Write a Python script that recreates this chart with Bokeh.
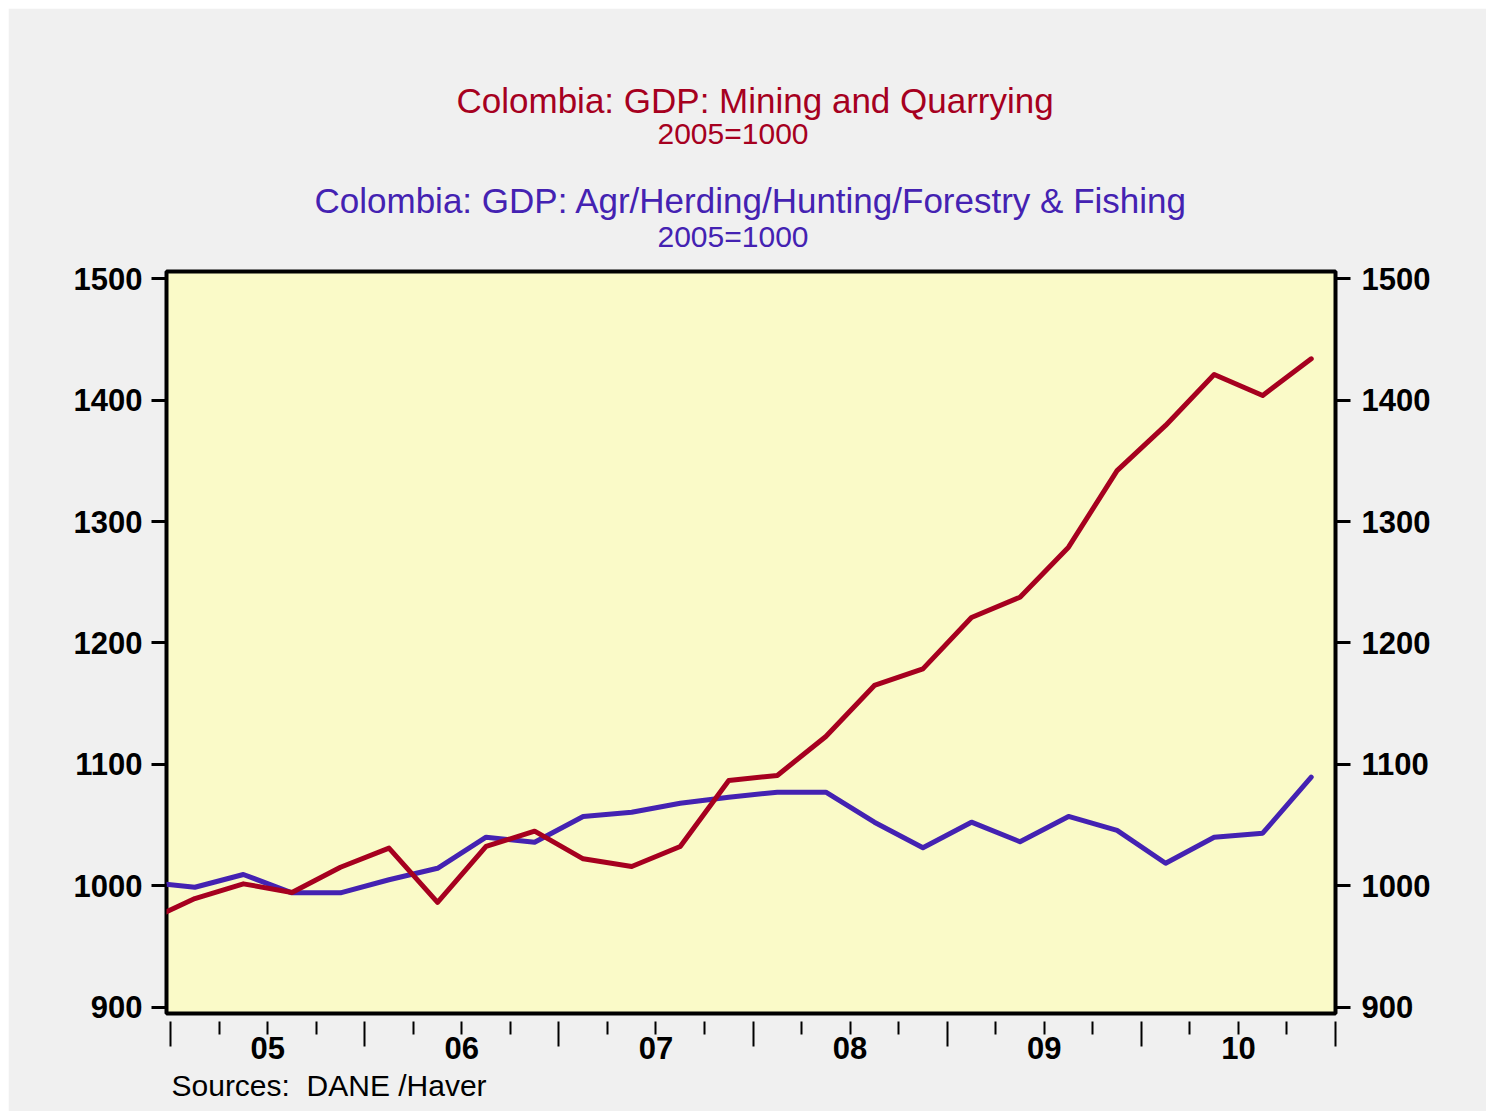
from bokeh.plotting import figure
from bokeh.models import FixedTicker, LinearAxis, Title, Range1d
from bokeh.embed import file_html
from bokeh.resources import INLINE

# ---- data ----
quarters = ["2004Q4",
            "2005Q1", "2005Q2", "2005Q3", "2005Q4",
            "2006Q1", "2006Q2", "2006Q3", "2006Q4",
            "2007Q1", "2007Q2", "2007Q3", "2007Q4",
            "2008Q1", "2008Q2", "2008Q3", "2008Q4",
            "2009Q1", "2009Q2", "2009Q3", "2009Q4",
            "2010Q1", "2010Q2", "2010Q3", "2010Q4"]
mining = [971, 989.5, 1001.6, 994.5, 1015.3,
          1031, 986.3, 1032.4, 1045,
          1022.2, 1015.9, 1032.4, 1086.7,
          1090.9, 1123, 1165, 1178.7,
          1221, 1237.7, 1278.9, 1342,
          1379.2, 1421.2, 1403.9, 1434.1]
agri = [1003, 998.8, 1009.3, 994.2, 994.2,
        1005, 1014.4, 1040, 1035.9,
        1057.1, 1060.6, 1068, 1073,
        1077.1, 1077.1, 1052.4, 1031.3,
        1052.4, 1036.3, 1057.1, 1045.6,
        1018.6, 1040, 1043.3, 1089.5]
years = [2005, 2006, 2007, 2008, 2009, 2010]
year_labels = ["05", "06", "07", "08", "09", "10"]
y_ticks = [900, 1000, 1100, 1200, 1300, 1400, 1500]

title1 = "Colombia: GDP: Mining and Quarrying"
title2 = "Colombia: GDP: Agr/Herding/Hunting/Forestry & Fishing"
unit = "2005=1000"
source = "Sources:\u00a0 DANE /Haver"

RED = "#A6001F"
BLUE = "#4422B2"
FONT = "Liberation Sans"

def qx(q):
    return int(q[:4]) + (int(q[5]) - 0.5) / 4.0

xs = [qx(q) for q in quarters]

p = figure(width=1478, height=1103, output_backend="svg", toolbar_location=None,
           title=None, x_range=Range1d(2004.979, 2011.0), y_range=Range1d(894.8, 1506),
           min_border_left=158, min_border_right=151, min_border_top=263,
           min_border_bottom=98, x_axis_location=None, y_axis_location=None)
p.margin = (8, 0, 0, 8)
p.background_fill_color = "#FAFAC8"
p.border_fill_color = "#F0F0F0"
p.outline_line_color = "black"
p.outline_line_width = 4
p.grid.visible = False

p.line(xs, agri, line_color=BLUE, line_width=5, line_join="round", line_cap="round")
p.line(xs, mining, line_color=RED, line_width=5, line_join="round", line_cap="round")

# x axis
major = []
overrides = {}
for y, lab in zip(years, year_labels):
    for k in (0.25, 0.5, 0.75):
        t = y + k
        major.append(t)
        overrides[t] = lab if k == 0.5 else ""
minor = years + [years[-1] + 1]
xaxis = LinearAxis(ticker=FixedTicker(ticks=major, minor_ticks=minor),
                   major_label_overrides=overrides)
xaxis.axis_line_color = None
xaxis.major_tick_line_color = "black"
xaxis.major_tick_line_width = 2
xaxis.minor_tick_line_color = "black"
xaxis.minor_tick_line_width = 2
xaxis.major_tick_in = -8
xaxis.major_tick_out = 21
xaxis.minor_tick_in = -8
xaxis.minor_tick_out = 33
xaxis.major_label_standoff = -10
xaxis.major_label_text_font = FONT
xaxis.major_label_text_font_style = "bold"
xaxis.major_label_text_font_size = "31px"
xaxis.major_label_text_color = "black"
p.add_layout(xaxis, "below")

for side in ("left", "right"):
    ax = LinearAxis(ticker=FixedTicker(ticks=y_ticks))
    ax.axis_line_color = None
    ax.major_tick_line_color = "black"
    ax.major_tick_line_width = 3
    ax.major_tick_in = 0
    ax.major_tick_out = 15
    ax.minor_tick_line_color = None
    ax.major_label_standoff = 9 if side == "left" else 11
    ax.major_label_text_font = FONT
    ax.major_label_text_font_style = "bold"
    ax.major_label_text_font_size = "31px"
    ax.major_label_text_color = "black"
    p.add_layout(ax, side)

def mk_title(text, color, size, offset, standoff):
    return Title(text=text, align="left", offset=offset, standoff=standoff,
                 text_color=color, text_font=FONT, text_font_size=size,
                 text_font_style="normal")

# above panel: first added is closest to the frame
p.add_layout(mk_title(unit, BLUE, "30px", 491, 37), "above")
p.add_layout(mk_title(title2, BLUE, "35px", 148, -41), "above")
p.add_layout(mk_title("\u00a0", BLUE, "1px", 0, 47), "above")
p.add_layout(mk_title(unit, RED, "30px", 491, 0), "above")
p.add_layout(mk_title(title1, RED, "35px", 290, -10), "above")

p.add_layout(Title(text=source, align="left", offset=5, standoff=11,
                   text_color="black", text_font=FONT, text_font_size="30px",
                   text_font_style="normal"), "below")

open("out.html", "w").write(file_html(p, INLINE))
